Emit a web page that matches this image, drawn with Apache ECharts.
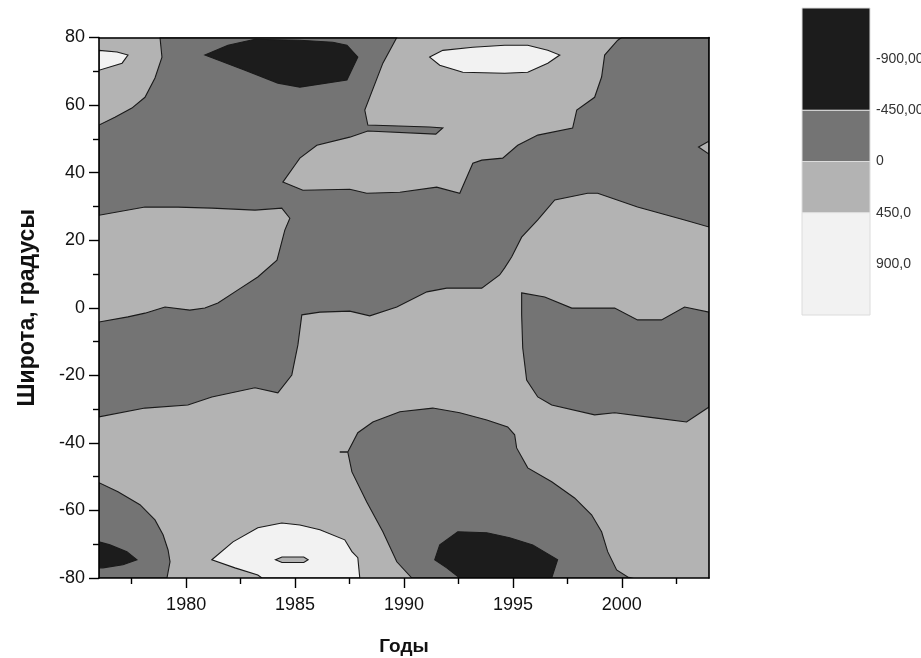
<!DOCTYPE html>
<html>
<head>
<meta charset="utf-8">
<script src="https://cdn.jsdelivr.net/npm/echarts@6/dist/echarts.min.js"></script>
<style>
  html, body { margin: 0; padding: 0; background: #ffffff; }
  #chart { width: 921px; height: 658px; }
</style>
</head>
<body>
<div id="chart"></div>
<script>
// Axis extents and ticks
const yearRange = [1976, 2004];
const latRange = [-80, 80];
const yearLabels = [1980, 1985, 1990, 1995, 2000];
const yearMinorTicks = [1977.5, 1982.5, 1987.5, 1992.5, 1997.5, 2002.5];

// Colour scale: band edges and their labels
const levelTicks = [-900, -450, 0, 450, 900];
const levelLabels = ['-900,00', '-450,00', '0', '450,0', '900,0'];
const levelBands = [[-1350, -450], [-450, 0], [0, 450], [450, 1350]];
const levelNames = ['black', 'dark', 'light', 'white'];

// Contour regions, vertices as [year, latitude]
const darkNorth = [
  [1978.80, 80], [1989.67, 80], [1989.03, 72.4], [1988.20, 58.5], [1988.34, 54.1],
  [1991.18, 53.5], [1991.78, 53.2], [1991.46, 51.4], [1988.34, 52.3], [1987.51, 50.5],
  [1986.00, 48.1], [1985.22, 44.3], [1984.99, 42.2], [1984.44, 37.2], [1985.36, 34.8],
  [1987.51, 35.1], [1988.29, 33.9], [1989.81, 34.2], [1991.50, 35.7], [1992.56, 33.9],
  [1993.16, 42.8], [1993.57, 43.7], [1994.53, 44.3], [1995.22, 48.1], [1996.14, 51.1],
  [1997.74, 53.2], [1997.93, 58.5], [1998.75, 62.3], [1999.07, 68.3], [1999.21, 74.8],
  [1999.81, 79.2], [1999.99, 80], [2004, 80], [2004, 23.9], [2002.88, 26.0],
  [2000.72, 29.8], [1998.89, 33.9], [1998.43, 33.9], [1996.92, 31.9], [1996.14, 26.0],
  [1995.40, 20.9], [1994.94, 15.0], [1994.62, 11.8], [1994.39, 9.7], [1993.57, 5.8],
  [1991.96, 5.8], [1991.05, 4.7], [1989.67, 0.2], [1988.43, -2.4], [1987.51, -1.0],
  [1986.14, -1.3], [1985.31, -2.1], [1985.13, -11.0], [1984.85, -19.9], [1984.21, -25.2],
  [1983.16, -23.7], [1981.18, -26.4], [1980.08, -28.8], [1978.11, -29.7], [1976, -32.3],
  [1976, -4.2], [1977.33, -2.7], [1978.11, -1.6], [1979.03, 0.2], [1980.17, -0.7],
  [1980.86, -0.1], [1981.46, 1.4], [1982.38, 5.3], [1983.29, 9.1], [1984.17, 14.1],
  [1984.53, 23.0], [1984.76, 26.5], [1984.39, 29.5], [1983.16, 28.9], [1981.18, 29.5],
  [1979.62, 29.8], [1978.11, 29.8], [1976, 27.4], [1976, 54.1], [1976.73, 56.4],
  [1977.51, 59.1], [1978.11, 62.3], [1978.57, 68.0], [1978.89, 74.2]
];
const darkEast = [
  [1995.40, 4.4], [1996.46, 3.2], [1997.70, -0.1], [1999.67, -0.1], [2000.72, -3.6],
  [2001.82, -3.6], [2002.88, 0.2], [2004, -1.3], [2004, -29.4], [2002.97, -33.8],
  [2001.50, -32.6], [1999.67, -31.1], [1998.75, -31.7], [1996.78, -28.8], [1996.14, -26.4],
  [1995.63, -21.4], [1995.45, -11.9], [1995.40, -2.1]
];
const darkSouthWest = [
  [1976, -51.8], [1976.87, -54.5], [1977.88, -58.3], [1978.57, -62.8], [1978.94, -67.2],
  [1979.17, -71.7], [1979.26, -75.2], [1979.12, -80], [1976, -80]
];
const darkSouth = [
  [1987.42, -42.7], [1987.88, -37.0], [1988.57, -33.8], [1989.81, -30.8], [1991.32, -29.7],
  [1992.56, -31.1], [1993.80, -33.2], [1994.76, -35.3], [1995.08, -37.6], [1995.17, -41.5],
  [1995.68, -47.4], [1996.78, -51.5], [1997.83, -56.3], [1998.61, -61.3], [1999.07, -66.3],
  [1999.35, -72.2], [1999.76, -77.6], [2000.27, -79.7], [2000.45, -80], [1990.36, -80],
  [1989.67, -75.2], [1989.03, -66.3], [1988.29, -57.5], [1987.61, -48.6]
];
const blackNorth = [
  [1980.86, 74.8], [1981.92, 77.7], [1983.16, 79.5], [1985.22, 79.2], [1986.73, 78.6],
  [1987.38, 77.7], [1987.88, 74.2], [1987.38, 67.4], [1985.22, 65.3], [1984.21, 66.5],
  [1982.70, 70.3]
];
const blackSouthWest = [
  [1976, -69.3], [1976.50, -70.2], [1977.28, -72.2], [1977.74, -74.6], [1977.10, -76.1],
  [1976.18, -77.0], [1976, -77.0]
];
const blackSouth = [
  [1992.56, -80], [1991.96, -77.0], [1991.41, -74.6], [1991.64, -70.2], [1992.47, -66.3],
  [1993.80, -66.6], [1994.85, -68.1], [1995.91, -70.2], [1997.05, -74.6], [1996.78, -80]
];
const whiteNorth = [
  [1991.18, 74.2], [1991.78, 76.2], [1993.16, 77.1], [1994.62, 77.7], [1995.68, 77.7],
  [1996.60, 76.2], [1997.15, 74.8], [1996.60, 72.4], [1995.68, 69.7], [1994.62, 69.4],
  [1992.70, 69.7], [1991.64, 71.8]
];
const whiteNorthWest = [
  [1976, 76.2], [1976.83, 75.7], [1977.33, 74.8], [1977.06, 72.4], [1976, 70.3]
];
const whiteSouth = [
  [1981.18, -74.6], [1982.15, -69.3], [1983.29, -65.1], [1984.39, -63.7], [1985.22, -64.3],
  [1986.14, -65.7], [1987.28, -68.7], [1987.61, -72.2], [1987.88, -74.0], [1987.97, -80],
  [1983.48, -80], [1983.29, -79.1], [1982.24, -77.0]
];
const lightSouthIsland = [
  [1984.1, -74.6], [1984.4, -73.8], [1985.4, -73.8], [1985.6, -74.6], [1985.4, -75.4],
  [1984.4, -75.4]
];
const lightEastIsland = [[2003.52, 47.6], [2004, 49.3], [2004, 45.5]];
const strayContour = [[1987.05, -42.7], [1987.42, -42.7]];

const levelColors = { black: '#1c1c1c', dark: '#747474', light: '#b3b3b3', white: '#f2f2f2' };
const lineColor = '#1a1a1a';

// Painting order: the light band is the grid fill, darker and lighter patches go on top
const layers = [
  { level: 'dark', pts: darkNorth },
  { level: 'dark', pts: darkEast },
  { level: 'dark', pts: darkSouthWest },
  { level: 'dark', pts: darkSouth },
  { level: 'black', pts: blackNorth },
  { level: 'black', pts: blackSouthWest },
  { level: 'black', pts: blackSouth },
  { level: 'white', pts: whiteNorth },
  { level: 'white', pts: whiteNorthWest },
  { level: 'white', pts: whiteSouth },
  { level: 'light', pts: lightSouthIsland },
  { level: 'light', pts: lightEastIsland },
  { level: 'line', pts: strayContour }
];

const FONT = '"Liberation Sans", Arial, sans-serif';
const chart = echarts.init(document.getElementById('chart'), null, { renderer: 'canvas' });

const frameLine = { color: '#000', width: 1.6 };
const tickLine = { color: '#000', width: 1.4 };

chart.setOption({
  animation: false,
  backgroundColor: '#ffffff',
  grid: [
    {
      left: 99, top: 37.5, right: 212, bottom: 80, outerBoundsMode: 'none',
      show: true, backgroundColor: levelColors.light, borderWidth: 0
    },
    { left: 802, top: 8, width: 68, height: 307, outerBoundsMode: 'none' }
  ],
  xAxis: [
    {
      gridIndex: 0, type: 'value', position: 'bottom', min: yearRange[0], max: yearRange[1], z: 10,
      axisLine: { show: true, onZero: false, lineStyle: frameLine },
      axisTick: { show: true, inside: false, length: 10, customValues: yearLabels, lineStyle: tickLine },
      axisLabel: {
        customValues: yearLabels, margin: 18, fontSize: 18, fontFamily: FONT, color: '#111',
        formatter: v => String(v)
      },
      splitLine: { show: false },
      name: 'Годы', nameLocation: 'middle', nameGap: 59,
      nameTextStyle: { fontSize: 19, fontWeight: 'bold', fontFamily: FONT, color: '#111' }
    },
    {
      gridIndex: 0, type: 'value', position: 'bottom', min: yearRange[0], max: yearRange[1], z: 10,
      axisLine: { show: false, onZero: false },
      axisTick: { show: true, inside: false, length: 6, customValues: yearMinorTicks, lineStyle: tickLine },
      axisLabel: { show: false },
      splitLine: { show: false }
    },
    {
      gridIndex: 0, type: 'value', position: 'top', min: yearRange[0], max: yearRange[1], z: 10,
      axisLine: { show: true, onZero: false, lineStyle: frameLine },
      axisTick: { show: false }, axisLabel: { show: false }, splitLine: { show: false }
    },
    {
      gridIndex: 1, type: 'value', min: 0, max: 1, show: false
    }
  ],
  yAxis: [
    {
      gridIndex: 0, type: 'value', position: 'left', min: latRange[0], max: latRange[1], interval: 20, z: 10,
      axisLine: { show: true, onZero: false, lineStyle: frameLine },
      axisTick: { show: true, inside: false, length: 10, lineStyle: tickLine },
      minorTick: { show: true, splitNumber: 2, length: 6, lineStyle: tickLine },
      axisLabel: { margin: 14, fontSize: 18, fontFamily: FONT, color: '#111' },
      splitLine: { show: false },
      name: 'Широта, градусы', nameLocation: 'middle', nameGap: 60, nameRotate: 90,
      nameTextStyle: { fontSize: 23, fontWeight: 'bold', fontFamily: FONT, color: '#111' }
    },
    {
      gridIndex: 0, type: 'value', position: 'right', min: latRange[0], max: latRange[1], z: 10,
      axisLine: { show: true, onZero: false, lineStyle: frameLine },
      axisTick: { show: false }, axisLabel: { show: false }, splitLine: { show: false }
    },
    {
      gridIndex: 1, type: 'value', position: 'right', inverse: true,
      min: levelBands[0][0], max: levelBands[levelBands.length - 1][1], interval: 450,
      axisLine: { show: false }, axisTick: { show: false }, splitLine: { show: false },
      axisLabel: {
        margin: 6, fontSize: 14, fontFamily: FONT, color: '#333',
        formatter: function (v) {
          const i = levelTicks.indexOf(v);
          return i >= 0 ? levelLabels[i] : '';
        }
      }
    }
  ],
  series: [
    {
      type: 'custom',
      xAxisIndex: 0, yAxisIndex: 0,
      clip: true,
      encode: { x: 0, y: 1 },
      data: layers.map(l => l.pts[0]),
      renderItem: function (params, api) {
        const layer = layers[params.dataIndex];
        const points = layer.pts.map(p => api.coord(p));
        if (layer.level === 'line') {
          return { type: 'polyline', shape: { points }, style: { stroke: lineColor, lineWidth: 1.5, fill: null } };
        }
        return {
          type: 'polygon',
          shape: { points },
          style: { fill: levelColors[layer.level], stroke: lineColor, lineWidth: 1.1 }
        };
      }
    },
    {
      type: 'custom',
      xAxisIndex: 3, yAxisIndex: 2,
      encode: { x: 0, y: 1 },
      data: levelBands.map(b => [0, b[0]]),
      renderItem: function (params, api) {
        const band = levelBands[params.dataIndex];
        const p0 = api.coord([0, band[0]]);
        const p1 = api.coord([1, band[1]]);
        return {
          type: 'rect',
          shape: { x: p0[0], y: p0[1], width: p1[0] - p0[0], height: p1[1] - p0[1] },
          style: { fill: levelColors[levelNames[params.dataIndex]], stroke: '#dcdcdc', lineWidth: 1 }
        };
      }
    }
  ]
});
</script>
</body>
</html>
